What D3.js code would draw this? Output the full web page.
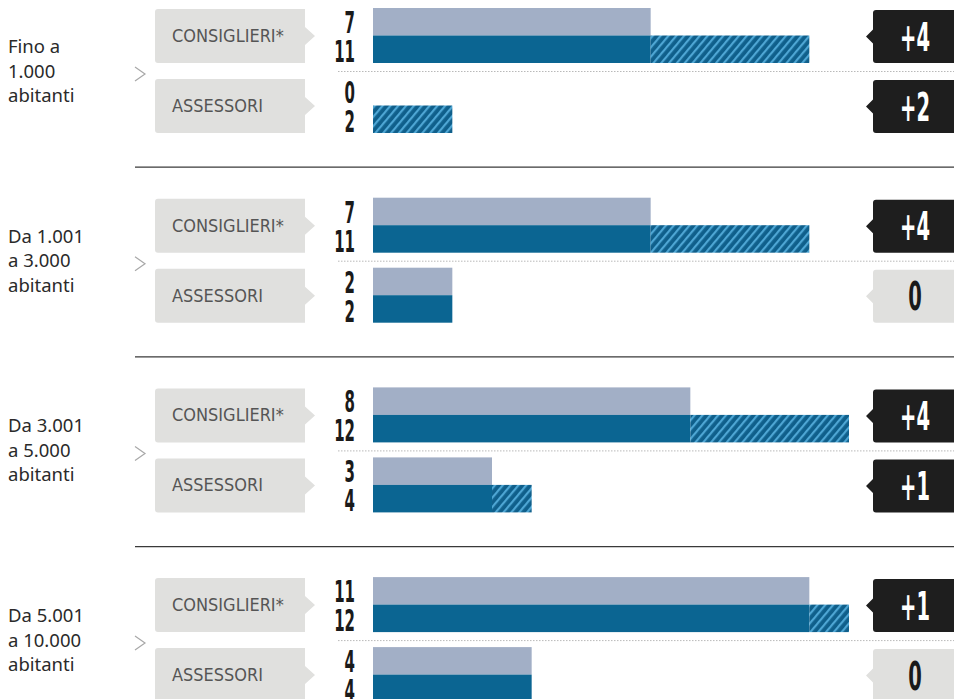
<!DOCTYPE html>
<html><head><meta charset="utf-8">
<script src="https://cdn.jsdelivr.net/npm/d3@7"></script>
<style>
html,body{margin:0;padding:0;background:#fff;}
svg{display:block;}
</style></head>
<body>
<svg id="c" width="954" height="699"></svg>
<script>
// ---- data ----
const categories = [
  ["Fino a", "1.000", "abitanti"],
  ["Da 1.001", "a 3.000", "abitanti"],
  ["Da 3.001", "a 5.000", "abitanti"],
  ["Da 5.001", "a 10.000", "abitanti"]
];
const roles = ["CONSIGLIERI*", "ASSESSORI"];
const consiglieriBefore = [7, 7, 8, 11];
const consiglieriAfter  = [11, 11, 12, 12];
const assessoriBefore   = [0, 2, 3, 4];
const assessoriAfter    = [2, 2, 4, 4];

const before = [consiglieriBefore, assessoriBefore];
const after  = [consiglieriAfter, assessoriAfter];

// ---- layout ----
const svg = d3.select("#c");
const W = 954;
const x = d3.scaleLinear().domain([0, 12]).range([373, 849]);
const gy = d3.scaleBand().domain(d3.range(categories.length)).range([8, 8 + 189.7 * 4]);
const ry = d3.scaleBand().domain(d3.range(roles.length)).range([0, 140]);
const barH = 27.5;

const cLight = "#a2afc6", cDark = "#0b6592", cBox = "#e0e0de";

// hatch pattern
const defs = svg.append("defs");
const pat = defs.append("pattern").attr("id", "hatch").attr("patternUnits", "userSpaceOnUse")
  .attr("width", 6).attr("height", 6).attr("patternTransform", "rotate(40)");
pat.append("rect").attr("width", 6).attr("height", 6).attr("fill", "#0f5f8b");
pat.append("rect").attr("x", 0).attr("width", 2.2).attr("height", 6).attr("fill", "#4ea6d4");

const condFont = "'DejaVu Sans', sans-serif";

categories.forEach((cat, gi) => {
  const g0 = gy(gi);
  const g = svg.append("g");

  if (gi > 0) {
    g.append("line").attr("x1", 135).attr("x2", W).attr("y1", g0 - 30.5).attr("y2", g0 - 30.5)
      .attr("stroke", "#3a3a3a").attr("stroke-width", 1.3);
  }

  // left label
  const t = g.append("text")
    .attr("font-family", "'Noto Sans', sans-serif").attr("font-size", 18.5).attr("fill", "#2a2a2a");
  cat.forEach((ln, li) => t.append("tspan").attr("x", 8).attr("y", g0 + 45 + li * 24.5).text(ln));

  // chevron
  const cy = g0 + 66;
  g.append("path").attr("d", `M135,${cy - 7} L145,${cy} L135,${cy + 7}`)
    .attr("fill", "none").attr("stroke", "#a8a8a8").attr("stroke-width", 1.2);

  // dotted separator between roles
  g.append("line").attr("x1", 338).attr("x2", W).attr("y1", g0 + 63.5).attr("y2", g0 + 63.5)
    .attr("stroke", "#b9b9b9").attr("stroke-width", 1).attr("stroke-dasharray", "1.5,1.5");

  roles.forEach((role, ri) => {
    const r0 = g0 + ry(ri);
    const b = before[ri][gi], a = after[ri][gi];
    const diff = a - b;

    // label box with arrow
    const bx0 = 155, bx1 = 305, by0 = r0 + 1, by1 = r0 + 55, bmid = (by0 + by1) / 2;
    g.append("path").attr("d",
      `M${bx0 + 3},${by0} L${bx1},${by0} L${bx1},${bmid - 9} L${bx1 + 10},${bmid} L${bx1},${bmid + 9} L${bx1},${by1} L${bx0 + 3},${by1} Q${bx0},${by1} ${bx0},${by1 - 3} L${bx0},${by0 + 3} Q${bx0},${by0} ${bx0 + 3},${by0} Z`)
      .attr("fill", cBox);
    g.append("text")
      .attr("transform", `translate(172,${bmid + 6}) scale(0.98,1.05)`)
      .attr("font-family", condFont).attr("font-size", 16.5).attr("fill", "#555")
      .text(role);

    // bars
    const yTop = r0, yBot = r0 + barH;
    if (b > 0) {
      g.append("rect").attr("x", x(0)).attr("y", yTop).attr("width", x(b) - x(0)).attr("height", barH).attr("fill", cLight);
    }
    const solid = Math.min(a, b);
    if (solid > 0) {
      g.append("rect").attr("x", x(0)).attr("y", yBot).attr("width", x(solid) - x(0)).attr("height", barH).attr("fill", cDark);
    }
    if (a > b) {
      g.append("rect").attr("x", x(b)).attr("y", yBot).attr("width", x(a) - x(b)).attr("height", barH).attr("fill", "url(#hatch)");
    }

    // numbers
    [b, a].forEach((v, k) => {
      g.append("text").attr("transform", `translate(355,${r0 + 25 + k * 29}) scale(0.5,1)`)
        .attr("text-anchor", "end").attr("font-family", condFont).attr("font-weight", "bold")
        .attr("font-size", 30).attr("fill", "#1a1a1a").text(v);
    });

    // badge
    const zx0 = 873, zy0 = r0 + 2, zy1 = r0 + 55, zmid = (zy0 + zy1) / 2;
    const dark = diff !== 0;
    g.append("path").attr("d",
      `M${zx0 + 3},${zy0} L${W + 5},${zy0} L${W + 5},${zy1} L${zx0 + 3},${zy1} Q${zx0},${zy1} ${zx0},${zy1 - 3} L${zx0},${zmid + 7} L${zx0 - 7},${zmid} L${zx0},${zmid - 7} L${zx0},${zy0 + 3} Q${zx0},${zy0} ${zx0 + 3},${zy0} Z`)
      .attr("fill", dark ? "#1e1e1e" : cBox);
    g.append("text").attr("transform", `translate(915,${zmid + 14}) scale(0.5,1)`)
      .attr("text-anchor", "middle").attr("font-family", condFont).attr("font-weight", "bold")
      .attr("font-size", 39).attr("fill", dark ? "#fff" : "#1a1a1a")
      .text(diff > 0 ? "+" + diff : String(diff));
  });
});
</script>
</body></html>
